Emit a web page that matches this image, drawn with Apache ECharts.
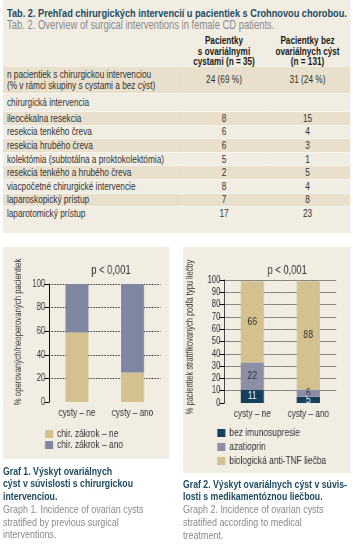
<!DOCTYPE html>
<html>
<head>
<meta charset="utf-8">
<script src="https://cdn.jsdelivr.net/npm/echarts@6/dist/echarts.min.js"></script>
<style>
  body { margin: 0; width: 353px; height: 550px; background: #fff; position: relative; overflow: hidden;
         font-family: 'Liberation Sans', Arial, sans-serif; color: #333; }
  /* celá strana je horizontálne zúžená (písmo v originále je condensed) */
  #page { position: absolute; left: 0; top: 0; width: 452.6px; height: 550px; transform: scaleX(0.78); transform-origin: 0 0; }
  .box { position: absolute; background: #f2ede2; }
  .t1 { position: absolute; left: 9px; top: 6px; font-size: 11.8px; font-weight: bold; color: #1d4b5f; white-space: nowrap; }
  .t2 { position: absolute; left: 9px; top: 18px; font-size: 12.1px; color: #8a8a8a; white-space: nowrap; }
  table { position: absolute; left: 3.85px; top: 33px; width: 444.9px; border-collapse: collapse; font-size: 10.6px; table-layout: fixed; }
  td { padding: 0 0 0 5px; line-height: 11px; white-space: nowrap; color: #333; }
  td.v { text-align: center; padding: 0; }
  tr.sh td { background: #e8e0cc; }
  tr.r td { border-top: 1px solid #f8f5ee; }
  th { font-weight: bold; color: #1a1a1a; line-height: 10.5px; font-size: 10.5px; vertical-align: top; padding: 2px 0 0 0; }
  .cap { position: absolute; line-height: 12.8px; white-space: nowrap; }
  .cap b { color: #1d4b5f; display: block; font-size: 11.2px; }
  .cap span { color: #8a8a8a; display: block; font-size: 11.5px; }
  .chart { position: absolute; }
</style>
</head>
<body>
<div id="page">
  <div class="box" style="left:3.85px;top:0;width:444.9px;height:233px"></div>
  <div class="t1">Tab. 2. Prehľad chirurgických intervencií u pacientiek s Crohnovou chorobou.</div>
  <div class="t2">Tab. 2. Overview of surgical interventions in female CD patients.</div>
  <table id="tab"></table>

  <div class="box" style="left:3.85px;top:247px;width:212.8px;height:212px"></div>
  <div class="box" style="left:234.6px;top:247px;width:214.1px;height:226px"></div>
  <div id="c1" class="chart" style="left:3.85px;top:247px;width:212.8px;height:212px"></div>
  <div id="c2" class="chart" style="left:234.6px;top:247px;width:214.1px;height:226px"></div>

  <div class="cap" style="left:3.85px;top:464.5px">
    <b>Graf 1. Výskyt ovariálnych<br>cýst v súvislosti s chirurgickou<br>intervenciou.</b>
    <span>Graph 1. Incidence of ovarian cysts<br>stratified by previous surgical<br>interventions.</span>
  </div>
  <div class="cap" style="left:234.6px;top:477.5px">
    <b>Graf 2. Výskyt ovariálnych cýst v súvis-<br>losti s medikamentóznou liečbou.</b>
    <span>Graph 2. Incidence of ovarian cysts<br>stratified according to medical<br>treatment.</span>
  </div>
</div>

<script>
// tabulka
const colHeads = ['Pacientky<br>s ovariálnymi<br>cystami (n = 35)', 'Pacientky bez<br>ovariálnych cýst<br>(n = 131)'];
const rowLabels = [
  'n pacientiek s chirurgickou intervenciou<br>(% v rámci skupiny s cystami a bez cýst)',
  'chirurgická intervencia',
  'ileocékalna resekcia',
  'resekcia tenkého čreva',
  'resekcia hrubého čreva',
  'kolektómia (subtotálna a proktokolektómia)',
  'resekcia tenkého a hrubého čreva',
  'viacpočetné chirurgické intervencie',
  'laparoskopický prístup',
  'laparotomický prístup'
];
const withCysts = ['24 (69 %)', '', '8', '6', '6', '5', '2', '8', '7', '17'];
const withoutCysts = ['31 (24 %)', '', '15', '4', '3', '1', '5', '4', '8', '23'];

// grafy
const categories = ['cysty – ne', 'cysty – ano'];
const surgNo = [59, 25];    // chir. zákrok – ne
const surgYes = [41, 75];   // chir. zákrok – ano
const noImmuno = [11, 5];   // bez imunosupresie
const azathioprine = [22, 6];
const antiTnf = [66, 88];

let html = '<tr style="height:32px"><th style="width:230.8px"></th><th style="width:105.1px">' + colHeads[0] +
  '</th><th>' + colHeads[1] + '</th></tr>';
const heights = [27, 18, 13.6, 13.6, 13.6, 13.6, 13.6, 13.6, 13.6, 13.6];
rowLabels.forEach((lab, i) => {
  const cls = (i % 2 === 0 ? 'sh ' : '') + (i > 0 ? 'r' : '');
  html += '<tr class="' + cls + '" style="height:' + heights[i] + 'px"><td>' + lab + '</td><td class="v">' +
    withCysts[i] + '</td><td class="v">' + withoutCysts[i] + '</td></tr>';
});
document.getElementById('tab').innerHTML = html;

const S = 0.78; // horizontálne zúženie stránky
const font = "'Liberation Sans', Arial, sans-serif";
const beige = '#d3c28f';
const grey = '#7f86a2';
const navy = '#163f5e';

function yAxis(step) {
  return {
    type: 'value', min: 0, max: 100, interval: step,
    axisLine: { show: true, lineStyle: { color: '#000', width: 1 } },
    axisTick: { show: true, length: 6.4, lineStyle: { color: '#000' } },
    axisLabel: { fontSize: 10, color: '#333', margin: 5, fontFamily: font },
    splitLine: { show: true, showMinLine: false, lineStyle: { type: 'dotted', color: '#222', width: 1 } }
  };
}
const xAxis = {
  type: 'category', data: categories,
  axisLine: { show: false }, axisTick: { show: false },
  axisLabel: { fontSize: 10.5, color: '#333', margin: 6, fontFamily: font }
};
// otočený popis osi y (zúžený po dĺžke)
function yName(text, x, y, size) {
  return {
    type: 'text', x: x, y: y, rotation: Math.PI / 2, scaleX: S, scaleY: 1 / S,
    style: { text: text, fontSize: size, fill: '#333', fontFamily: font, align: 'center', verticalAlign: 'middle' }
  };
}
function legend(names, left, top, gap) {
  return {
    orient: 'vertical', left: left, top: top, padding: 0, itemWidth: 10.3, itemHeight: 8, itemGap: gap, icon: 'rect',
    textStyle: { fontSize: 10.8, color: '#333', lineHeight: 11, fontFamily: font },
    data: names
  };
}

// Graf 1
const chart1 = echarts.init(document.getElementById('c1'));
chart1.setOption({
  animation: false,
  title: { text: 'p < 0,001', left: 108, top: 13, textStyle: { fontSize: 12, fontWeight: 'normal', color: '#333', fontFamily: font } },
  legend: legend(['chir. zákrok – ne', 'chir. zákrok – ano'], 53.8, 181.5, 0),
  grid: { left: 59, right: 11.5, top: 37, bottom: 57, outerBoundsMode: 'none' },
  xAxis: xAxis,
  yAxis: yAxis(20),
  graphic: [yName('% operovaných/neoperovaných pacientiek', 19.2, 85, 10)],
  series: [
    { name: 'chir. zákrok – ne', type: 'bar', stack: 's', barWidth: 29.5, data: surgNo, itemStyle: { color: beige } },
    { name: 'chir. zákrok – ano', type: 'bar', stack: 's', barWidth: 29.5, data: surgYes, itemStyle: { color: grey } }
  ]
});

// Graf 2
const chart2 = echarts.init(document.getElementById('c2'));
const lbl = (c) => ({ show: true, position: 'inside', fontSize: 11, color: c, fontFamily: font });
chart2.setOption({
  animation: false,
  title: { text: 'p < 0,001', left: 103, top: 13, textStyle: { fontSize: 12, fontWeight: 'normal', color: '#333', fontFamily: font } },
  legend: legend(['bez imunosupresie', 'azatioprin', 'biologická anti-TNF liečba'], 43.6, 180.5, 3),
  grid: { left: 52.6, right: 17.9, top: 33, bottom: 70, outerBoundsMode: 'none' },
  xAxis: xAxis,
  yAxis: yAxis(10),
  graphic: [yName('% pacientiek stratifikovaných podľa typu liečby', 9, 90, 9.6)],
  series: [
    { name: 'bez imunosupresie', type: 'bar', stack: 's', barWidth: 29.5, data: noImmuno, itemStyle: { color: navy }, label: lbl('#fff') },
    { name: 'azatioprin', type: 'bar', stack: 's', barWidth: 29.5, data: azathioprine, itemStyle: { color: '#8c8fa6' }, label: lbl('#333') },
    { name: 'biologická anti-TNF liečba', type: 'bar', stack: 's', barWidth: 29.5, data: antiTnf, itemStyle: { color: beige }, label: lbl('#333') }
  ]
});
</script>
</body>
</html>
